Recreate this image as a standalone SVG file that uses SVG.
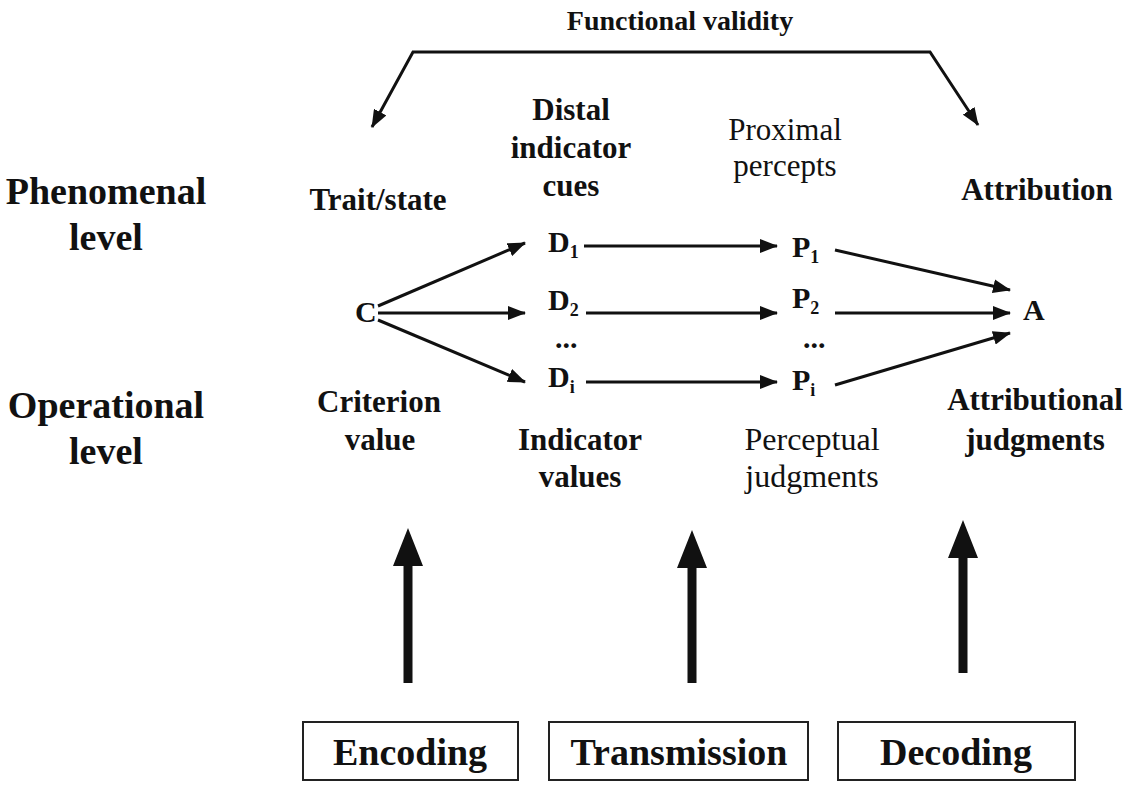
<svg xmlns="http://www.w3.org/2000/svg" width="1129" height="787" viewBox="0 0 1129 787">
<defs>
<style>
text{font-family:"Liberation Serif","Times New Roman",serif;fill:#111;font-weight:bold;text-anchor:middle}
.side{font-size:38px}
.lbl{font-size:31px}
.reg{font-weight:normal}
.title{font-size:28px}
.node{font-size:30px;text-anchor:start}
.sub{font-size:18px}
.box{font-size:38px}
.conn{stroke:#111;stroke-width:3;fill:none}
.frame{fill:#fff;stroke:#222;stroke-width:2}
.big{fill:#111}
</style>
<marker id="ah" viewBox="0 0 18 14" refX="17" refY="7" markerWidth="18" markerHeight="14" markerUnits="userSpaceOnUse" orient="auto-start-reverse">
<path d="M0,0 L18,7 L0,14 Z" fill="#111"/>
</marker>
</defs>
<rect width="1129" height="787" fill="#fff"/>

<g id="title"><text class="title" x="680" y="30">Functional validity</text></g>

<g id="phenomenal"><text class="side" x="106" y="204">Phenomenal</text><text class="side" x="106" y="250">level</text></g>
<g id="operational"><text class="side" x="106" y="418">Operational</text><text class="side" x="106" y="464">level</text></g>

<g id="trait"><text class="lbl" x="378" y="210">Trait/state</text></g>
<g id="distal"><text class="lbl" x="571" y="120">Distal</text><text class="lbl" x="571" y="158">indicator</text><text class="lbl" x="571" y="196">cues</text></g>
<g id="proximal"><text class="lbl reg" x="785" y="140">Proximal</text><text class="lbl reg" x="785" y="176">percepts</text></g>
<g id="attribution"><text class="lbl" x="1037" y="200">Attribution</text></g>
<g id="criterion"><text class="lbl" x="379" y="412">Criterion</text><text class="lbl" x="380" y="450">value</text></g>
<g id="indicator"><text class="lbl" x="580" y="450">Indicator</text><text class="lbl" x="580" y="487">values</text></g>
<g id="perceptual"><text class="lbl reg" x="812" y="450" style="font-size:32px">Perceptual</text><text class="lbl reg" x="812" y="487" style="font-size:32px">judgments</text></g>
<g id="attributional"><text class="lbl" x="1035" y="410">Attributional</text><text class="lbl" x="1035" y="450">judgments</text></g>

<g id="C"><text class="node" x="355" y="322">C</text></g>
<g id="D1"><text class="node" x="548" y="252">D<tspan class="sub" dy="6">1</tspan></text></g>
<g id="D2"><text class="node" x="548" y="310">D<tspan class="sub" dy="6">2</tspan></text></g>
<g id="Ddots"><text class="node" x="555" y="348">...</text></g>
<g id="Di"><text class="node" x="548" y="387">D<tspan class="sub" dy="6">i</tspan></text></g>
<g id="P1"><text class="node" x="792" y="257">P<tspan class="sub" dy="6">1</tspan></text></g>
<g id="P2"><text class="node" x="792" y="308">P<tspan class="sub" dy="6">2</tspan></text></g>
<g id="Pdots"><text class="node" x="803" y="348">...</text></g>
<g id="Pi"><text class="node" x="792" y="390">P<tspan class="sub" dy="6">i</tspan></text></g>
<g id="A"><text class="node" x="1023" y="320">A</text></g>

<g id="connectors">
<path class="conn" d="M372,127 L413,52 L930,52 L978,125" marker-start="url(#ah)" marker-end="url(#ah)"/>
<line class="conn" x1="378" y1="306" x2="525" y2="243" marker-end="url(#ah)"/>
<line class="conn" x1="378" y1="313" x2="525" y2="313" marker-end="url(#ah)"/>
<line class="conn" x1="378" y1="320" x2="525" y2="382" marker-end="url(#ah)"/>
<line class="conn" x1="584" y1="246" x2="777" y2="246" marker-end="url(#ah)"/>
<line class="conn" x1="586" y1="313" x2="777" y2="313" marker-end="url(#ah)"/>
<line class="conn" x1="586" y1="382" x2="777" y2="382" marker-end="url(#ah)"/>
<line class="conn" x1="835" y1="250" x2="1010" y2="290" marker-end="url(#ah)"/>
<line class="conn" x1="835" y1="313" x2="1010" y2="313" marker-end="url(#ah)"/>
<line class="conn" x1="835" y1="385" x2="1010" y2="333" marker-end="url(#ah)"/>
</g>

<g id="bigarrows">
<path class="big" d="M403.5,683 L403.5,566 L393,566 L408,528 L423,566 L412.5,566 L412.5,683 Z"/>
<path class="big" d="M687.5,683 L687.5,568 L677,568 L692,530 L707,568 L696.5,568 L696.5,683 Z"/>
<path class="big" d="M958.5,673 L958.5,558 L948,558 L963,520 L978,558 L967.5,558 L967.5,673 Z"/>
</g>

<g id="encoding"><rect class="frame" x="303" y="722" width="215" height="58"/><text class="box" x="410" y="765">Encoding</text></g>
<g id="transmission"><rect class="frame" x="549" y="722" width="259" height="58"/><text class="box" x="679" y="765">Transmission</text></g>
<g id="decoding"><rect class="frame" x="838" y="722" width="237" height="58"/><text class="box" x="956" y="765">Decoding</text></g>
</svg>
